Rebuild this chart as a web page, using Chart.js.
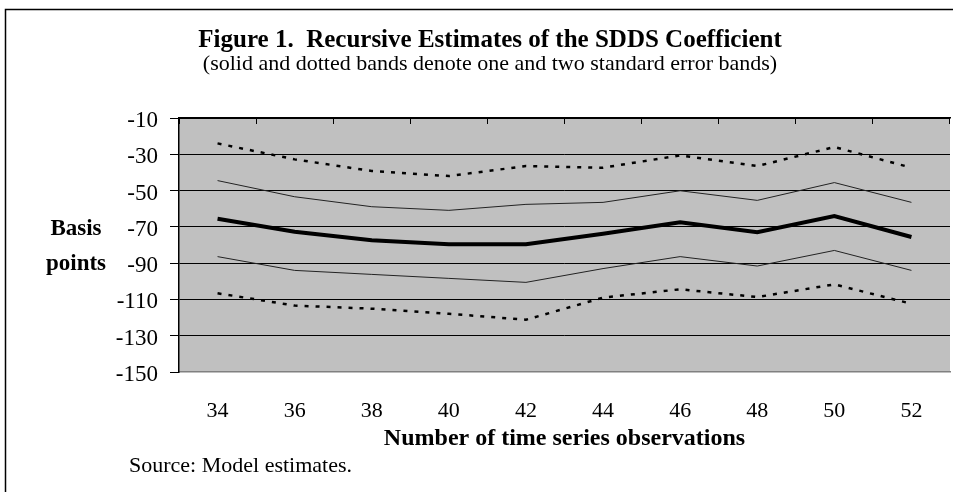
<!DOCTYPE html>
<html>
<head>
<meta charset="utf-8">
<script src="https://cdn.jsdelivr.net/npm/chart.js@4"></script>
<style>
  html, body { margin: 0; padding: 0; background: #fff; overflow: hidden; }
  canvas { display: block; }
</style>
</head>
<body>
<canvas id="myChart" width="953" height="492"></canvas>
<script>
var observations = ["34","36","38","40","42","44","46","48","50","52"];
var estimate   = [-65.5, -72.7, -77.4, -79.6, -79.6, -73.8, -67.5, -73.0, -64.0, -75.6];
var upperOneSE = [-44.5, -53.4, -58.9, -60.9, -57.6, -56.5, -50.1, -55.4, -45.6, -56.5];
var lowerOneSE = [-86.4, -94.0, -96.2, -98.4, -100.6, -93.0, -86.4, -91.6, -83.0, -94.0];
var upperTwoSE = [-24.0, -32.8, -39.2, -42.0, -36.5, -37.4, -30.6, -36.5, -26.0, -37.4];
var lowerTwoSE = [-106.6, -113.4, -115.1, -117.9, -121.2, -109.0, -104.4, -108.7, -101.7, -112.4];
var yTicks = [-150, -130, -110, -90, -70, -50, -30, -10];

var serif = "'Liberation Serif', 'Times New Roman', serif";

// plot background, outer frame and free text
var decor = {
    id: "decor",
    beforeDraw: function (chart) {
        var ctx = chart.ctx, a = chart.chartArea;
        ctx.save();
        ctx.fillStyle = "#c0c0c0";
        ctx.fillRect(a.left, a.top, a.right - a.left, a.bottom - a.top);
        ctx.strokeStyle = "#000";
        ctx.lineWidth = 1.5;
        ctx.strokeRect(5.5, 9.5, 2000, 2000);
        ctx.restore();
    },
    afterDraw: function (chart) {
        var ctx = chart.ctx, a = chart.chartArea;
        ctx.save();
        ctx.fillStyle = "#000";
        ctx.textBaseline = "middle";
        ctx.textAlign = "center";
        ctx.font = "bold 25px " + serif;
        ctx.fillText("Figure 1.  Recursive Estimates of the SDDS Coefficient", 490, 41);
        ctx.font = "22px " + serif;
        ctx.fillText("(solid and dotted bands denote one and two standard error bands)", 490, 64);
        ctx.font = "bold 24px " + serif;
        ctx.fillText("Number of time series observations", (a.left + a.right) / 2, 439);
        ctx.font = "bold 23px " + serif;
        ctx.fillText("Basis", 76, 229);
        ctx.fillText("points", 76, 264);
        ctx.textAlign = "left";
        ctx.font = "22px " + serif;
        ctx.fillText("Source: Model estimates.", 129, 466);
        ctx.restore();
    }
};

function band(data, width, dash, color) {
    return {
        data: data,
        borderColor: color,
        borderWidth: width,
        borderDash: dash,
        pointRadius: 0,
        fill: false,
        tension: 0
    };
}

new Chart("myChart", {
    type: "line",
    data: {
        labels: observations,
        datasets: [
            band(upperTwoSE, 2.5, [4, 7], "#000"),
            band(upperOneSE, 1, [], "#222"),
            band(estimate, 4, [], "#000"),
            band(lowerOneSE, 1, [], "#222"),
            band(lowerTwoSE, 2.5, [4, 7], "#000")
        ]
    },
    options: {
        responsive: false,
        animation: false,
        devicePixelRatio: 1,
        layout: { padding: { left: 0, top: 118, right: 3, bottom: 0 } },
        plugins: {
            legend: { display: false },
            title: { display: false },
            tooltip: { enabled: false }
        },
        scales: {
            x: {
                position: "bottom",
                offset: true,
                grid: { display: false, drawTicks: false },
                border: { display: true, color: "#808080", width: 1.5 },
                ticks: { color: "#000", padding: 26, font: { family: serif, size: 22 } },
                afterFit: function (s) { s.height = 120; }
            },
            xTop: {
                position: "top",
                offset: true,
                grid: { offset: true, drawOnChartArea: false, drawTicks: true, tickLength: -6, color: "#000" },
                border: { display: true, color: "#000", width: 1.5 },
                ticks: { display: false },
                afterFit: function (s) { s.height = 0; }
            },
            y: {
                min: -150,
                max: -10,
                afterBuildTicks: function (s) { s.ticks = yTicks.map(function (v) { return { value: v }; }); },
                grid: {
                    color: function (c) { return c.tick && c.tick.value === -150 ? "rgba(0,0,0,0)" : "#000"; },
                    tickColor: "#000",
                    tickLength: 9,
                    lineWidth: 1
                },
                border: { display: true, color: "#000", width: 1.5 },
                ticks: { color: "#000", padding: 12, labelOffset: 3, font: { family: serif, size: 23 } },
                afterFit: function (s) { s.width = 179; }
            }
        }
    },
    plugins: [decor]
});
</script>
</body>
</html>
